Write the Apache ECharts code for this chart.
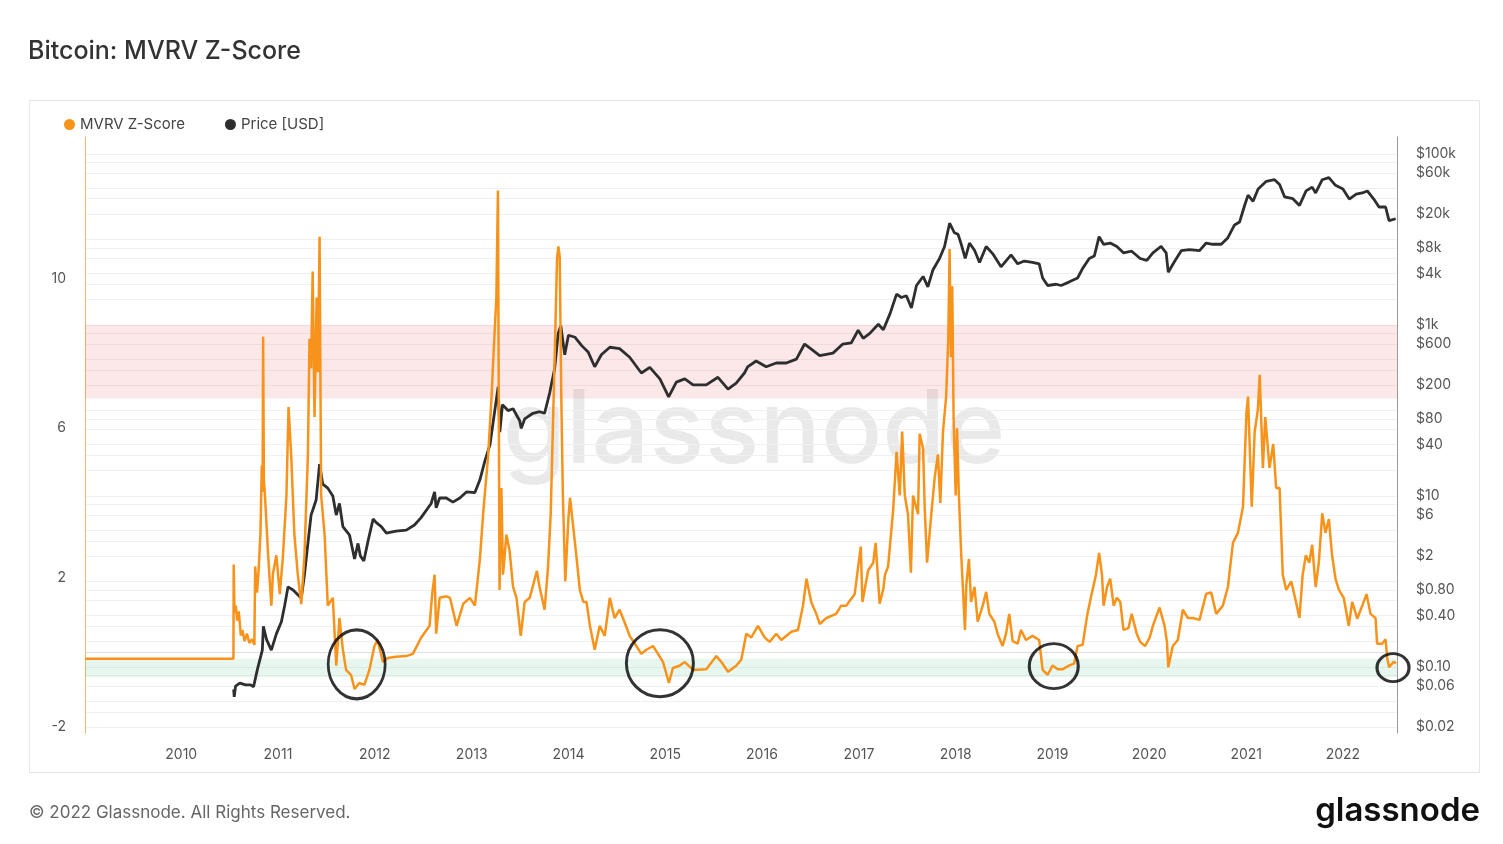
<!DOCTYPE html>
<html>
<head>
<meta charset="utf-8">
<script src="https://cdn.jsdelivr.net/npm/echarts@6.0.0/dist/echarts.min.js"></script>
<style>
  html, body { margin: 0; padding: 0; background: #ffffff; }
  #chart { width: 1503px; height: 844px; }
</style>
</head>
<body>
<div id="chart"></div>
<script>
// ---------------- DATA ----------------
const zDates = [
'2009-01-03','2010-07-17','2010-07-18','2010-07-21','2010-07-26','2010-07-31','2010-08-06','2010-08-14','2010-08-20','2010-08-28',
'2010-09-06','2010-09-15','2010-09-25','2010-10-04','2010-10-07','2010-10-14','2010-10-20','2010-10-27','2010-11-01','2010-11-04',
'2010-11-06','2010-11-09','2010-11-13','2010-11-25','2010-12-07','2010-12-13','2010-12-26','2011-01-08','2011-01-20','2011-02-02',
'2011-02-10','2011-02-20','2011-03-04','2011-03-17','2011-03-30','2011-04-11','2011-04-24','2011-04-30','2011-05-06','2011-05-12',
'2011-05-19','2011-05-27','2011-06-01','2011-06-07','2011-06-13','2011-06-26','2011-07-08','2011-07-27','2011-08-09','2011-08-21',
'2011-09-03','2011-09-15','2011-10-04','2011-10-17','2011-11-04','2011-11-23','2011-12-12','2011-12-31','2012-01-12','2012-02-01',
'2012-02-19','2012-03-21','2012-04-29','2012-05-24','2012-06-24','2012-07-26','2012-08-05','2012-08-14','2012-08-20','2012-09-02',
'2012-09-27','2012-10-11','2012-11-05','2012-11-30','2012-12-25','2013-01-13','2013-02-01','2013-02-13','2013-03-04','2013-03-17',
'2013-03-23','2013-04-04','2013-04-10','2013-04-16','2013-04-23','2013-04-29','2013-05-12','2013-05-24','2013-06-06','2013-06-19',
'2013-07-05','2013-07-20','2013-08-08','2013-08-27','2013-09-04','2013-09-14','2013-10-03','2013-10-16','2013-10-26','2013-11-10',
'2013-11-19','2013-11-24','2013-11-29','2013-12-05','2013-12-11','2013-12-20','2014-01-01','2014-01-07','2014-01-19','2014-02-01',
'2014-02-13','2014-02-26','2014-03-10','2014-03-23','2014-04-10','2014-04-29','2014-05-18','2014-06-06','2014-06-24','2014-07-13',
'2014-08-01','2014-08-20','2014-09-14','2014-10-03','2014-10-22','2014-11-16','2014-12-05','2014-12-24','2015-01-15','2015-01-30',
'2015-02-24','2015-03-16','2015-04-16','2015-06-05','2015-07-13','2015-08-01','2015-08-26','2015-09-26','2015-10-15','2015-11-03',
'2015-11-22','2015-12-17','2016-01-11','2016-01-30','2016-02-24','2016-03-14','2016-04-21','2016-05-16','2016-06-04','2016-06-17',
'2016-07-05','2016-07-24','2016-08-06','2016-08-31','2016-10-07','2016-10-26','2016-11-14','2016-12-16','2016-12-29','2017-01-08',
'2017-01-14','2017-02-05','2017-02-24','2017-03-05','2017-03-20','2017-04-03','2017-04-09','2017-04-21','2017-05-10','2017-05-23',
'2017-06-04','2017-06-13','2017-06-23','2017-07-05','2017-07-16','2017-07-24','2017-08-12','2017-08-18','2017-08-31','2017-09-06',
'2017-09-15','2017-10-01','2017-10-14','2017-10-26','2017-11-04','2017-11-14','2017-11-26','2017-12-04','2017-12-09','2017-12-14',
'2017-12-19','2017-12-24','2018-01-01','2018-01-06','2018-01-13','2018-01-22','2018-02-05','2018-02-10','2018-02-20','2018-02-28',
'2018-03-13','2018-03-25','2018-04-13','2018-04-26','2018-05-08','2018-05-27','2018-06-08','2018-06-27','2018-07-10','2018-07-22',
'2018-08-04','2018-08-23','2018-09-04','2018-09-23','2018-10-18','2018-11-12','2018-11-25','2018-12-14','2019-01-02','2019-01-21',
'2019-02-09','2019-03-06','2019-03-24','2019-04-06','2019-04-25','2019-05-13','2019-05-26','2019-06-14','2019-06-26','2019-07-07',
'2019-07-13','2019-07-26','2019-08-07','2019-08-20','2019-09-01','2019-09-14','2019-09-26','2019-10-15','2019-10-27','2019-11-15',
'2019-11-28','2019-12-17','2020-01-03','2020-01-15','2020-02-09','2020-02-28','2020-03-08','2020-03-13','2020-03-30','2020-04-18',
'2020-05-07','2020-05-26','2020-06-14','2020-07-09','2020-08-03','2020-08-22','2020-09-10','2020-10-05','2020-10-24','2020-11-12',
'2020-12-01','2020-12-20','2021-01-02','2021-01-08','2021-01-22','2021-02-02','2021-02-14','2021-02-21','2021-03-05','2021-03-14',
'2021-03-30','2021-04-13','2021-04-24','2021-05-07','2021-05-19','2021-06-01','2021-06-20','2021-07-08','2021-07-21','2021-08-02',
'2021-08-14','2021-08-27','2021-09-07','2021-09-20','2021-10-02','2021-10-15','2021-10-27','2021-11-09','2021-11-21','2021-12-04',
'2021-12-17','2022-01-04','2022-01-23','2022-02-05','2022-02-24','2022-03-15','2022-03-31','2022-04-15','2022-05-04','2022-05-10',
'2022-05-29','2022-06-11','2022-06-17','2022-06-24','2022-07-12','2022-07-20'
];
const zValues = [
-0.17,-0.17,2.35,1.05,1.25,0.85,1.1,0.45,0.6,0.3,
0.5,0.25,0.35,0.2,2.3,1.6,2.2,3.2,5.0,4.3,
8.45,4.6,4.2,2.6,1.25,2.1,2.6,1.56,2.6,4.2,
6.57,5.26,3.15,2.07,1.29,2.6,5.3,8.4,7.6,10.2,
6.3,9.5,7.5,11.13,4.2,3.15,1.25,1.46,-0.36,0.92,
0.07,-0.47,-0.61,-0.98,-0.82,-0.87,-0.47,0.17,0.33,-0.26,
-0.15,-0.12,-0.1,-0.04,0.39,0.71,1.57,2.08,0.5,1.46,
1.5,1.46,0.71,1.3,1.46,1.25,2.5,3.7,5.26,6.85,
7.8,9.5,12.37,1.67,4.4,2.08,3.15,2.72,1.75,1.46,
0.44,1.35,1.46,1.97,2.18,1.75,1.14,2.29,3.7,7.9,
10.55,10.87,10.6,6.85,4.2,1.9,3.6,4.14,3.36,2.5,
1.67,1.35,1.35,0.71,0.07,0.71,0.44,1.46,0.92,1.14,
0.8,0.44,0.17,-0.04,0.07,0.17,-0.04,-0.26,-0.82,-0.42,
-0.36,-0.26,-0.47,-0.45,-0.1,-0.26,-0.52,-0.36,-0.2,0.5,
0.4,0.71,0.4,0.28,0.5,0.33,0.55,0.6,1.25,1.97,
1.35,1.03,0.76,0.92,1.03,1.25,1.25,1.56,2.29,2.83,
1.35,2.2,2.4,2.93,1.3,1.7,2.07,2.3,3.8,5.37,
4.2,5.91,4.2,3.7,2.13,4.2,3.7,5.85,5.45,3.9,
2.4,3.7,4.7,5.3,4.0,5.9,6.85,8.4,10.8,7.9,
9.8,6.3,4.2,6.0,4.2,2.6,0.6,1.8,2.5,1.35,
1.75,0.82,1.25,1.62,1.03,0.82,0.5,0.17,0.5,1.03,
0.3,0.23,0.6,0.33,0.44,0.33,-0.47,-0.6,-0.35,-0.45,
-0.45,-0.35,-0.3,0.17,0.2,1.03,1.46,2.07,2.66,2.07,
1.25,1.75,1.97,1.25,1.46,1.35,0.6,0.65,1.03,0.5,
0.28,0.17,0.4,0.71,1.2,0.71,0.28,-0.4,0.17,0.33,
1.14,0.92,0.92,0.87,1.57,1.6,1.03,1.25,1.75,2.93,
3.2,3.9,6.42,6.85,3.9,5.9,6.5,7.43,4.94,6.3,
4.94,5.58,4.4,4.4,2.08,1.67,1.9,1.35,0.92,2.07,
2.6,2.4,2.88,1.75,2.4,3.72,3.2,3.57,2.6,1.97,
1.67,1.46,0.71,1.35,0.9,1.25,1.56,1.03,0.92,0.23,
0.23,0.35,-0.15,-0.4,-0.25,-0.3
];

const priceDates = [
'2010-07-18','2010-07-20','2010-07-25','2010-08-10','2010-09-01','2010-09-20','2010-10-01','2010-10-15','2010-11-03','2010-11-07',
'2010-11-19','2010-12-07','2010-12-26','2011-01-14','2011-01-26','2011-02-08','2011-02-27','2011-03-30','2011-04-11','2011-04-24',
'2011-05-06','2011-05-25','2011-06-07','2011-06-19','2011-07-08','2011-07-27','2011-08-09','2011-08-21','2011-09-03','2011-09-28',
'2011-10-17','2011-10-30','2011-11-08','2011-11-21','2011-12-07','2011-12-26','2012-01-07','2012-01-26','2012-02-14','2012-03-21',
'2012-04-29','2012-05-30','2012-06-24','2012-08-01','2012-08-14','2012-08-20','2012-09-02','2012-09-27','2012-10-22','2012-11-17',
'2012-12-12','2013-01-13','2013-02-01','2013-02-20','2013-03-11','2013-03-30','2013-04-11','2013-04-17','2013-04-27','2013-05-18',
'2013-06-06','2013-07-01','2013-07-07','2013-07-20','2013-08-20','2013-09-14','2013-10-03','2013-10-22','2013-11-10','2013-11-23',
'2013-12-03','2013-12-18','2014-01-01','2014-01-26','2014-02-20','2014-03-17','2014-04-10','2014-05-05','2014-06-06','2014-07-13',
'2014-08-20','2014-10-03','2014-11-04','2014-12-12','2015-01-14','2015-02-12','2015-03-16','2015-04-16','2015-06-05','2015-07-19',
'2015-08-26','2015-09-26','2015-10-27','2015-11-08','2015-12-10','2016-01-17','2016-02-24','2016-04-02','2016-05-10','2016-06-10',
'2016-06-29','2016-08-06','2016-09-25','2016-11-01','2016-12-03','2016-12-29','2017-01-17','2017-02-11','2017-03-15','2017-04-03',
'2017-04-28','2017-05-23','2017-06-10','2017-06-29','2017-07-18','2017-08-06','2017-08-31','2017-09-18','2017-10-07','2017-11-01',
'2017-11-20','2017-12-09','2017-12-19','2017-12-27','2018-01-10','2018-01-22','2018-02-06','2018-02-22','2018-03-13','2018-04-01',
'2018-04-26','2018-05-21','2018-06-21','2018-07-29','2018-08-23','2018-09-17','2018-10-18','2018-11-12','2018-11-25','2018-12-14',
'2019-01-15','2019-02-03','2019-03-06','2019-04-06','2019-04-25','2019-05-20','2019-06-08','2019-06-26','2019-07-13','2019-08-07',
'2019-09-01','2019-09-26','2019-10-27','2019-11-28','2019-12-23','2020-01-15','2020-02-15','2020-03-05','2020-03-13','2020-04-05',
'2020-05-01','2020-06-01','2020-07-09','2020-08-03','2020-08-28','2020-09-29','2020-10-24','2020-11-18','2020-12-07','2020-12-26',
'2021-01-08','2021-01-27','2021-02-15','2021-03-18','2021-04-18','2021-05-07','2021-05-26','2021-06-26','2021-07-21','2021-08-15',
'2021-09-07','2021-09-20','2021-10-15','2021-11-09','2021-12-04','2022-01-01','2022-01-25','2022-02-20','2022-03-15','2022-04-03',
'2022-04-28','2022-05-17','2022-06-11','2022-06-24','2022-07-19'
];
const priceValues = [
0.055,0.045,0.06,0.065,0.062,0.062,0.059,0.093,0.158,0.30,
0.21,0.158,0.245,0.34,0.52,0.87,0.8,0.64,1.2,2.8,
6,9,23.7,13.8,12.4,10,6,8.2,4.4,3.5,
1.84,2.8,2.0,1.74,3.0,5.4,4.9,4.4,3.7,3.9,
4.0,4.6,5.6,8.2,11.2,7.3,9.5,9.5,8.5,9.5,
11.2,11.0,15.5,26,40,105,190,56,117,100,
105,76,62,80,93,97,93,160,310,790,
980,450,760,720,575,480,325,450,550,530,
420,275,320,235,145,215,235,200,200,245,
178,210,275,325,380,325,360,360,400,600,
540,440,470,600,620,870,700,800,1020,880,
1350,2300,2100,2200,1580,2900,3700,2800,4400,6000,
8300,15500,13500,12000,11500,8800,6000,9100,7500,5400,
8300,6800,4800,6600,5200,5600,5400,5200,3550,2900,
3000,2900,3200,3550,4600,6000,6400,10800,8800,9100,
8300,7000,7300,6000,5700,7000,8300,7000,4150,5500,
7400,7600,7400,9100,8800,8800,10500,14800,16000,25000,
33000,28000,39000,48000,50000,44000,31500,30000,25000,37000,
41000,35000,50000,53000,43000,39000,29700,34000,35000,37000,
29500,24000,24000,16600,17500
];

// annotation circles (centre date, z-value)
const circleDates = ['2011-10-25','2014-12-12','2019-01-06','2022-07-09'];
const circleZ = [-0.32, -0.29, -0.37, -0.41];

// axis ticks
const zTickValues = [-2, 2, 6, 10];
const priceTickValues = [0.02,0.06,0.1,0.4,0.8,2,6,10,40,80,200,600,1000,4000,8000,20000,60000,100000];
const priceTickLabels = ['$0.02','$0.06','$0.10','$0.40','$0.80','$2','$6','$10','$40','$80','$200','$600','$1k','$4k','$8k','$20k','$60k','$100k'];

// bands on the z-score axis
const redBand = [6.8, 8.77];
const greenBand = [-0.66, -0.17];

// ---------------- STYLE ----------------
const circleSizes = [[57,69],[67,67],[49,45],[32,28]];
const FONT = 'Inter, "Noto Sans", sans-serif';

const gridLineValues = [];
[-2,-1,0,1,2,3,4,5].forEach(k => [1,2,3,4,6,8].forEach(m => gridLineValues.push(m * Math.pow(10, k))));

const zData = zDates.map((d, i) => [d, zValues[i]]);
const priceData = priceDates.map((d, i) => [d, priceValues[i]]);
const circleData = circleDates.map((d, i) => ({ value: [d, circleZ[i]], symbolSize: circleSizes[i] }));

const chart = echarts.init(document.getElementById('chart'), null, { renderer: 'canvas' });

const option = {
  animation: false,
  backgroundColor: '#ffffff',
  textStyle: { fontFamily: FONT },
  title: {
    text: 'Bitcoin: MVRV Z-Score',
    left: 23, top: 34,
    textStyle: { fontFamily: FONT, fontSize: 25, fontWeight: 500, color: '#333333' }
  },
  legend: {
    data: ['MVRV Z-Score', 'Price [USD]'],
    left: 59, top: 112,
    icon: 'circle', itemWidth: 11, itemHeight: 11, itemGap: 40,
    textStyle: { fontFamily: FONT, fontSize: 15, color: '#444444' }
  },
  grid: { left: 85, right: 106, top: 137, bottom: 111, containLabel: false },
  xAxis: {
    type: 'time',
    min: '2009-01-03', max: '2022-07-24',
    minInterval: 365 * 24 * 3600 * 1000,
    maxInterval: 366 * 24 * 3600 * 1000,
    axisLine: { lineStyle: { color: '#dddddd', width: 1 } },
    axisTick: { show: false },
    splitLine: { show: false },
    axisLabel: { formatter: '{yyyy}', color: '#555555', fontSize: 14, margin: 15, fontFamily: FONT }
  },
  yAxis: [
    {
      type: 'value',
      position: 'left',
      min: -2.16, max: 13.8,
      axisLine: { show: true, lineStyle: { color: '#f8b45f', width: 1 } },
      axisTick: { show: false },
      splitLine: { show: false },
      axisLabel: { customValues: zTickValues, color: '#555555', fontSize: 14, margin: 19, fontFamily: FONT }
    },
    {
      type: 'log',
      logBase: 10,
      position: 'right',
      min: 0.017, max: 158000,
      axisLine: { show: true, lineStyle: { color: '#9a9a9a', width: 1 } },
      axisTick: { show: false, customValues: gridLineValues },
      splitLine: { show: true, lineStyle: { color: '#f0f0f0', width: 1 } },
      axisLabel: {
        customValues: priceTickValues,
        color: '#555555', fontSize: 14, margin: 19, fontFamily: FONT,
        formatter: function (v) {
          for (let i = 0; i < priceTickValues.length; i++) {
            if (Math.abs(Math.log10(v) - Math.log10(priceTickValues[i])) < 1e-6) return priceTickLabels[i];
          }
          return '';
        }
      }
    }
  ],
  graphic: {
    elements: [
      {
        type: 'rect', z: -10, silent: true,
        shape: { x: 29.5, y: 100.5, width: 1450, height: 672 },
        style: { fill: 'none', stroke: '#e6e6e6', lineWidth: 1 }
      },
      {
        type: 'text', z: 0, silent: true,
        x: 754, y: 432,
        style: { text: 'glassnode', fontFamily: FONT, fontSize: 102, fontWeight: 500,
                 fill: 'rgba(0,0,0,0.085)', align: 'center', verticalAlign: 'middle' }
      },
      {
        type: 'text', silent: true,
        x: 29, y: 813,
        style: { text: '\u00A9 2022 Glassnode. All Rights Reserved.', fontFamily: FONT, fontSize: 17,
                 fill: '#666666', align: 'left', verticalAlign: 'middle' }
      },
      {
        type: 'text', silent: true,
        x: 1480, y: 811,
        style: { text: 'glassnode', fontFamily: FONT, fontSize: 33, fontWeight: 600,
                 fill: '#111111', align: 'right', verticalAlign: 'middle' }
      }
    ]
  },
  series: [
    {
      name: 'Price [USD]',
      type: 'line',
      yAxisIndex: 1,
      data: priceData,
      showSymbol: false,
      color: '#2e2e2e',
      lineStyle: { color: '#2e2e2e', width: 2.8 },
      z: 3
    },
    {
      name: 'MVRV Z-Score',
      type: 'line',
      yAxisIndex: 0,
      data: zData,
      showSymbol: false,
      color: '#f7931a',
      lineStyle: { color: '#f7931a', width: 2.5 },
      z: 4,
      markArea: {
        silent: true,
        z: 1,
        data: [
          [{ yAxis: redBand[0], itemStyle: { color: 'rgba(238,90,100,0.14)' } }, { yAxis: redBand[1] }],
          [{ yAxis: greenBand[0], itemStyle: { color: 'rgba(70,190,130,0.13)' } }, { yAxis: greenBand[1] }]
        ]
      }
    },
    {
      name: 'circles',
      type: 'scatter',
      yAxisIndex: 0,
      data: circleData,
      clip: false,
      symbol: 'path://M0,50 A50,50 0 1,1 100,50 A50,50 0 1,1 0,50 Z',
      itemStyle: { color: 'rgba(0,0,0,0)', borderColor: '#000000', borderWidth: 3 },
      z: 6,
      silent: true
    }
  ]
};

chart.setOption(option);
</script>
</body>
</html>
